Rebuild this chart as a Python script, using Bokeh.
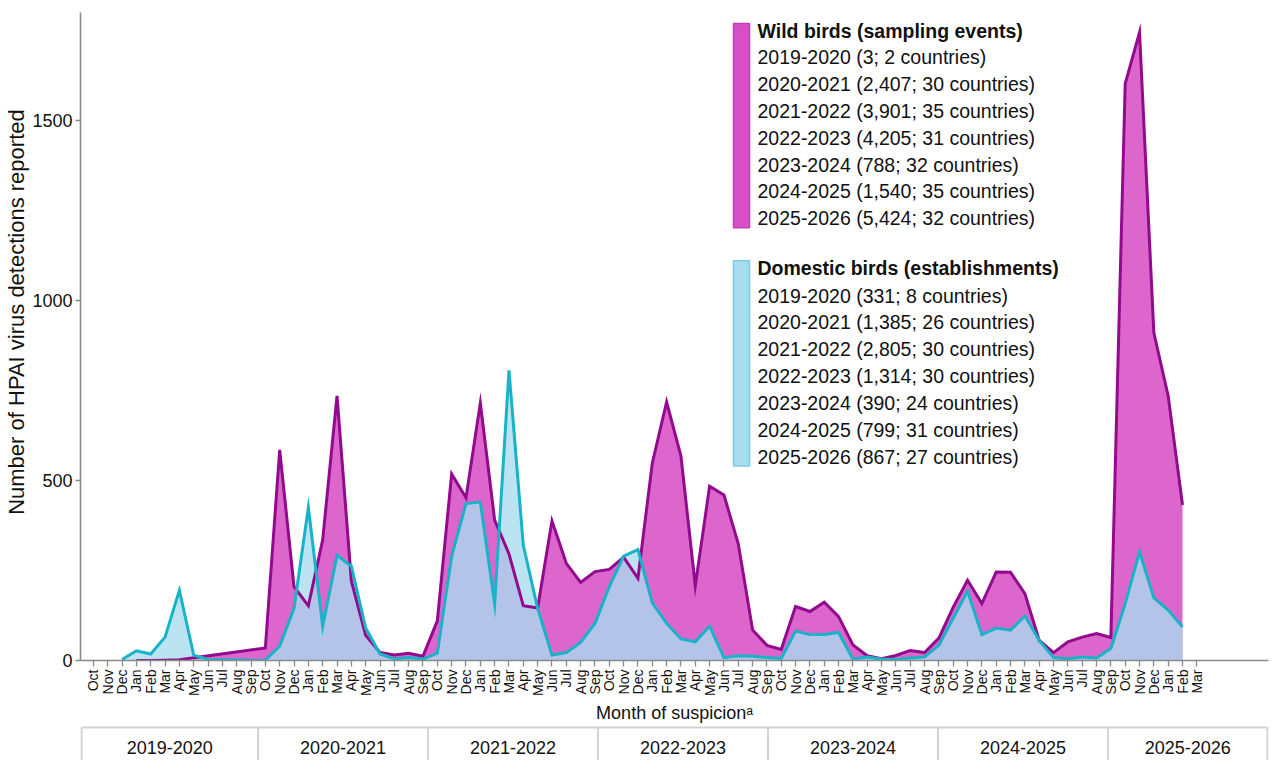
import math
from bokeh.plotting import figure
from bokeh.models import Range1d, FixedTicker
from bokeh.layouts import column
from bokeh.embed import file_html
from bokeh.resources import INLINE
from bokeh.core.properties import value

FONT = "Liberation Sans"

# ---------------- data ----------------
month_abbr = ["Oct", "Nov", "Dec", "Jan", "Feb", "Mar", "Apr", "May", "Jun", "Jul", "Aug", "Sep"]
first_year, first_month, n_months = 2019, 10, 78

month_keys = []
yy, mm = first_year, first_month
for _ in range(n_months):
    month_keys.append(f"{yy}-{mm:02d}")
    mm += 1
    if mm > 12:
        mm, yy = 1, yy + 1
month_labels = [month_abbr[i % 12] for i in range(n_months)]

seasons = ["2019-2020", "2020-2021", "2021-2022", "2022-2023", "2023-2024", "2024-2025", "2025-2026"]

wild_months = [
    "2020-01", "2020-02", "2020-03", "2020-04",
    "2020-10", "2020-11", "2020-12", "2021-01", "2021-02", "2021-03", "2021-04", "2021-05", "2021-06", "2021-07", "2021-08", "2021-09",
    "2021-10", "2021-11", "2021-12", "2022-01", "2022-02", "2022-03", "2022-04", "2022-05", "2022-06", "2022-07", "2022-08", "2022-09",
    "2022-10", "2022-11", "2022-12", "2023-01", "2023-02", "2023-03", "2023-04", "2023-05", "2023-06", "2023-07", "2023-08", "2023-09",
    "2023-10", "2023-11", "2023-12", "2024-01", "2024-02", "2024-03", "2024-04", "2024-05", "2024-06", "2024-07", "2024-08", "2024-09",
    "2024-10", "2024-11", "2024-12", "2025-01", "2025-02", "2025-03", "2025-04", "2025-05", "2025-06", "2025-07", "2025-08", "2025-09",
    "2025-10", "2025-11", "2025-12", "2026-01", "2026-02",
]
wild_values = [
    0, 0, 1, 2,
    35, 585, 205, 152, 335, 735, 221, 70, 22, 15, 20, 12,
    110, 518, 452, 715, 390, 296, 152, 146, 388, 270, 217, 247,
    253, 287, 228, 548, 718, 568, 208, 484, 460, 324, 85, 42,
    31, 150, 136, 162, 122, 43, 13, 5, 14, 28, 22, 62,
    148, 223, 158, 246, 245, 186, 56, 22, 52, 65, 75, 64,
    1602, 1745, 910, 735, 432,
]

domestic_months = [
    "2019-12", "2020-01", "2020-02", "2020-03", "2020-04", "2020-05", "2020-06", "2020-07", "2020-08", "2020-09",
    "2020-10", "2020-11", "2020-12", "2021-01", "2021-02", "2021-03", "2021-04", "2021-05", "2021-06", "2021-07", "2021-08", "2021-09",
    "2021-10", "2021-11", "2021-12", "2022-01", "2022-02", "2022-03", "2022-04", "2022-05", "2022-06", "2022-07", "2022-08", "2022-09",
    "2022-10", "2022-11", "2022-12", "2023-01", "2023-02", "2023-03", "2023-04", "2023-05", "2023-06", "2023-07", "2023-08", "2023-09",
    "2023-10", "2023-11", "2023-12", "2024-01", "2024-02", "2024-03", "2024-04", "2024-05", "2024-06", "2024-07", "2024-08", "2024-09",
    "2024-10", "2024-11", "2024-12", "2025-01", "2025-02", "2025-03", "2025-04", "2025-05", "2025-06", "2025-07", "2025-08", "2025-09",
    "2025-10", "2025-11", "2025-12", "2026-01", "2026-02",
]
domestic_values = [
    3, 27, 18, 65, 195, 15, 3, 2, 2, 1,
    1, 40, 145, 425, 95, 292, 262, 90, 18, 5, 8, 4,
    20, 290, 436, 440, 158, 806, 320, 145, 15, 22, 50, 103,
    205, 290, 308, 160, 103, 60, 52, 95, 8, 13, 12, 8,
    6, 82, 72, 72, 78, 4, 10, 4, 3, 7, 10, 42,
    118, 192, 72, 90, 84, 124, 56, 8, 5, 10, 7, 33,
    158, 302, 174, 140, 93,
]

wild_totals = [3, 2407, 3901, 4205, 788, 1540, 5424]
wild_countries = [2, 30, 35, 31, 32, 35, 32]
domestic_totals = [331, 1385, 2805, 1314, 390, 799, 867]
domestic_countries = [8, 26, 30, 30, 24, 31, 27]

y_ticks = [0, 500, 1000, 1500]

# ---------------- geometry helpers (page pixels) ----------------
X0, X1 = -0.9, 82.0
Y0, Y1 = 0, 1800
FRAME_L, FRAME_T, FRAME_W, FRAME_H = 80, 12, 1188, 650
SX = FRAME_W / (X1 - X0)
SY = FRAME_H / (Y1 - Y0)


def dx(px):
    return X0 + (px - FRAME_L) / SX


def dy(py):
    return Y0 + (FRAME_T + FRAME_H - py) / SY


idx = {k: i for i, k in enumerate(month_keys)}
wild_x = [idx[k] for k in wild_months]
dom_x = [idx[k] for k in domestic_months]

WILD_FILL = "#dd66cc"
WILD_LINE = "#920a8e"
DOM_FILL = "#aadcef"
DOM_LINE = "#19b3c8"
AXIS_COL = "#8a8a8a"
TEXT_COL = "#111111"

W = 1288
MAIN_H = 725

# ---------------- main figure ----------------
p = figure(width=W, height=MAIN_H, x_range=Range1d(X0, X1), y_range=Range1d(Y0, Y1),
           output_backend="svg", toolbar_location=None,
           min_border_left=FRAME_L, min_border_right=W - FRAME_L - FRAME_W,
           min_border_top=FRAME_T, min_border_bottom=MAIN_H - FRAME_T - FRAME_H)
p.outline_line_color = None
p.grid.visible = False
p.background_fill_color = "white"
p.border_fill_color = "white"

xa = p.xaxis[0]
xa.ticker = FixedTicker(ticks=list(range(n_months)))
xa.major_label_overrides = {i: lab for i, lab in enumerate(month_labels)}
xa.major_label_orientation = math.pi / 2
xa.major_label_text_font = FONT
xa.major_label_text_font_size = "14px"
xa.major_label_text_color = TEXT_COL
xa.major_label_standoff = 3
xa.major_tick_out = 6
xa.major_tick_in = 0
xa.minor_tick_line_color = None
xa.axis_line_color = AXIS_COL
xa.axis_line_width = 1.6
xa.major_tick_line_color = AXIS_COL
xa.major_tick_line_width = 1.3
xa.axis_label = "Month of suspicion\u1d43"
xa.axis_label_text_font = FONT
xa.axis_label_text_font_size = "18px"
xa.axis_label_text_font_style = "normal"
xa.axis_label_text_color = TEXT_COL
xa.axis_label_standoff = 4

ya = p.yaxis[0]
ya.ticker = FixedTicker(ticks=y_ticks)
ya.major_label_text_font = FONT
ya.major_label_text_font_size = "18px"
ya.major_label_text_color = TEXT_COL
ya.major_label_standoff = 3
ya.major_tick_out = 5
ya.major_tick_in = 0
ya.minor_tick_line_color = None
ya.axis_line_color = AXIS_COL
ya.axis_line_width = 1.6
ya.major_tick_line_color = AXIS_COL
ya.major_tick_line_width = 1.3
# leading no-break spaces lift the visible label a little above the frame centre, as in the reference
ya.axis_label = "\u00a0" * 8 + "Number of HPAI virus detections reported"
ya.axis_label_text_font = FONT
ya.axis_label_text_font_size = "22px"
ya.axis_label_text_font_style = "normal"
ya.axis_label_text_color = TEXT_COL
ya.axis_label_standoff = 0

p.varea(x=wild_x, y1=0, y2=wild_values, fill_color=WILD_FILL, fill_alpha=1.0)
p.varea(x=dom_x, y1=0, y2=domestic_values, fill_color=DOM_FILL, fill_alpha=0.8)
p.line(wild_x, wild_values, line_color=WILD_LINE, line_width=3, line_join="miter")
p.line(dom_x, domestic_values, line_color=DOM_LINE, line_width=3, line_join="miter")

# ---------------- legend (drawn inside the frame) ----------------
LEG_TEXT_X = dx(757)
ROW = 26.9
p.quad(left=[dx(733)], right=[dx(749)], top=[dy(23)], bottom=[dy(228)],
       fill_color="#d74fc7", line_color="#c23fb5", line_width=1.5)
p.quad(left=[dx(733)], right=[dx(749)], top=[dy(261)], bottom=[dy(467)],
       fill_color="#a9dcef", line_color="#78cee5", line_width=1.5)

p.text(x=[LEG_TEXT_X, LEG_TEXT_X], y=[dy(30.5), dy(268.5)],
       text=["Wild birds (sampling events)", "Domestic birds (establishments)"],
       text_font=value(FONT), text_font_size="19.5px", text_font_style="bold",
       text_color=TEXT_COL, text_baseline="middle", text_align="left")

wild_lines = [f"{s} ({t:,}; {c} countries)" for s, t, c in zip(seasons, wild_totals, wild_countries)]
dom_lines = [f"{s} ({t:,}; {c} countries)" for s, t, c in zip(seasons, domestic_totals, domestic_countries)]
p.text(x=[LEG_TEXT_X] * len(wild_lines), y=[dy(57 + ROW * k) for k in range(len(wild_lines))],
       text=wild_lines, text_font=value(FONT), text_font_size="19.5px",
       text_color=TEXT_COL, text_baseline="middle", text_align="left")
p.text(x=[LEG_TEXT_X] * len(dom_lines), y=[dy(296 + ROW * k) for k in range(len(dom_lines))],
       text=dom_lines, text_font=value(FONT), text_font_size="19.5px",
       text_color=TEXT_COL, text_baseline="middle", text_align="left")

# ---------------- season band ----------------
BAND_H = 760 - MAIN_H
B_LEFT_PX, B_RIGHT_PX = 78, 1280
bx0 = X0 - (FRAME_L - B_LEFT_PX) / SX
bx1 = bx0 + (B_RIGHT_PX - B_LEFT_PX) / SX
b = figure(width=W, height=BAND_H, x_range=Range1d(bx0, bx1), y_range=Range1d(0, BAND_H),
           output_backend="svg", toolbar_location=None,
           x_axis_location=None, y_axis_location=None,
           min_border_left=B_LEFT_PX, min_border_right=W - B_RIGHT_PX,
           min_border_top=0, min_border_bottom=0)
b.outline_line_color = None
b.grid.visible = False
b.background_fill_color = "white"
b.border_fill_color = "white"

left_edge = X0 - 1 / SX
right_edge = X0 + (1279 - FRAME_L) / SX
bounds = [left_edge] + [11.5 + 12 * k for k in range(len(seasons) - 1)] + [right_edge]
BAND_COL = "#d2d2d2"
TOP_Y = BAND_H - 2  # page y = 727
b.segment(x0=[bounds[0]], x1=[bounds[-1]], y0=[TOP_Y], y1=[TOP_Y], line_color=BAND_COL, line_width=2)
b.segment(x0=bounds, x1=bounds, y0=[TOP_Y] * len(bounds), y1=[-2] * len(bounds),
          line_color=BAND_COL, line_width=2)
centers = [(bounds[k] + bounds[k + 1]) / 2 for k in range(len(seasons))]
b.text(x=centers, y=[760 - 747] * len(seasons), text=seasons, text_font=value(FONT),
       text_font_size="18px", text_color=TEXT_COL, text_align="center", text_baseline="middle")

layout = column(p, b, spacing=0)
open("out.html", "w").write(file_html(layout, INLINE))
